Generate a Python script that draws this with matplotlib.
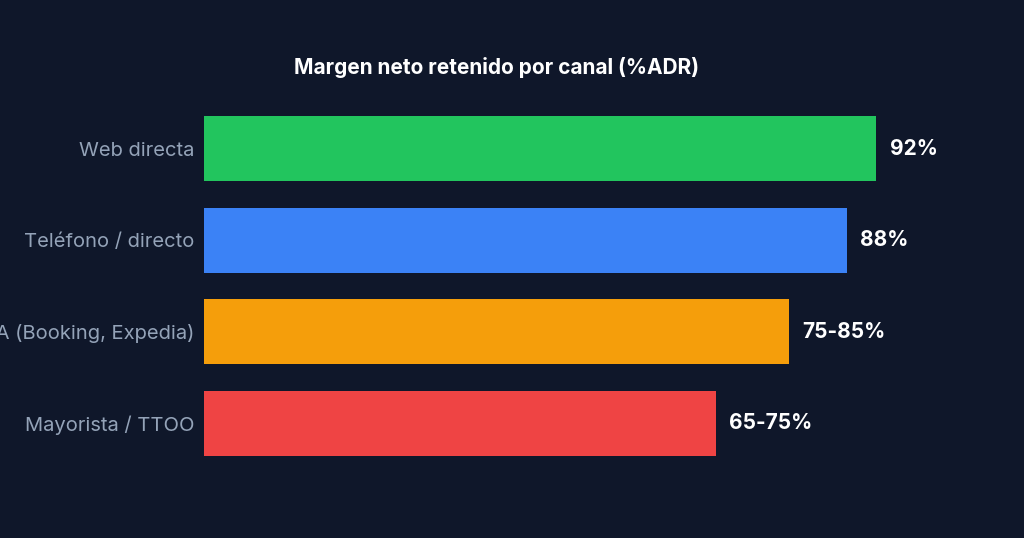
import matplotlib
matplotlib.use("Agg")
import matplotlib.pyplot as plt

channels = ["Web directa", "Teléfono / directo", "OTA (Booking, Expedia)", "Mayorista / TTOO"]
values = [92, 88, 80, 70]
value_labels = ["92%", "88%", "75-85%", "65-75%"]
colors = ["#22c55e", "#3b82f6", "#f59e0b", "#ef4444"]

BG = "#0f172a"
plt.rcParams["font.family"] = ["Inter", "Liberation Sans", "DejaVu Sans"]

fig = plt.figure(figsize=(10.24, 5.38), dpi=100, facecolor=BG)
ax = fig.add_axes([0.199, 0.128, 0.714, 0.681], facecolor=BG)

y = list(range(len(channels)))
ax.barh(y, values, height=0.71, color=colors)
for yi, v, lab in zip(y, values, value_labels):
    ax.text(v + 1.8, yi, lab, va="center", ha="left", color="white",
            fontsize=15, fontweight="bold")

ax.set_xlim(0, 100)
ax.set_ylim(len(channels) - 0.5, -0.5)
ax.set_yticks(y)
ax.set_yticklabels(channels, color="#94a3b8", fontsize=14.5)
ax.tick_params(axis="y", length=0, pad=7)
ax.set_xticks([])
for s in ax.spines.values():
    s.set_visible(False)

fig.text(497 / 1024, 1 - 68 / 538, "Margen neto retenido por canal (%ADR)",
         ha="center", va="center", color="white", fontsize=15, fontweight="bold")

fig.savefig("out.png", facecolor=BG)
